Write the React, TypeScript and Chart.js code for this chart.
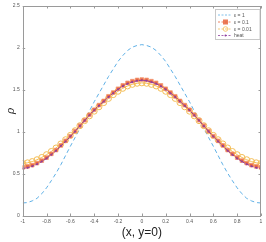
import React, { useEffect, useRef } from "react";
import { Chart, registerables } from "chart.js";

Chart.register(...registerables);

const xs = [
  -1, -0.96, -0.92, -0.88, -0.84, -0.8, -0.76, -0.72, -0.68, -0.64, -0.6, -0.56, -0.52, -0.48, -0.44, -0.4, -0.36, -0.32, -0.28, -0.24, -0.2, -0.16, -0.12, -0.08, -0.04,
  0,
  0.04, 0.08, 0.12, 0.16, 0.2, 0.24, 0.28, 0.32, 0.36, 0.4, 0.44, 0.48, 0.52, 0.56, 0.6, 0.64, 0.68, 0.72, 0.76, 0.8, 0.84, 0.88, 0.92, 0.96, 1,
];

const eps1 = [
  0.155, 0.16, 0.18, 0.21, 0.265, 0.335, 0.42, 0.51, 0.61, 0.72, 0.83, 0.935, 1.04, 1.145, 1.25, 1.36, 1.46, 1.56, 1.66, 1.75, 1.84, 1.91, 1.97, 2.01, 2.03,
  2.04,
  2.03, 2.01, 1.97, 1.91, 1.84, 1.75, 1.66, 1.56, 1.46, 1.36, 1.25, 1.145, 1.04, 0.935, 0.83, 0.72, 0.61, 0.51, 0.42, 0.335, 0.265, 0.21, 0.18, 0.16, 0.155,
];

const eps01 = [
  0.578, 0.59, 0.605, 0.63, 0.66, 0.695, 0.74, 0.785, 0.84, 0.895, 0.95, 1.01, 1.075, 1.14, 1.205, 1.265, 1.32, 1.37, 1.425, 1.47, 1.515, 1.555, 1.585, 1.605, 1.62,
  1.625,
  1.62, 1.605, 1.585, 1.555, 1.515, 1.47, 1.425, 1.37, 1.32, 1.265, 1.205, 1.14, 1.075, 1.01, 0.95, 0.895, 0.84, 0.785, 0.74, 0.695, 0.66, 0.63, 0.605, 0.59, 0.578,
];

const eps001 = [
  0.625, 0.633, 0.648, 0.67, 0.697, 0.73, 0.768, 0.81, 0.858, 0.908, 0.96, 1.015, 1.075, 1.135, 1.192, 1.248, 1.3, 1.35, 1.4, 1.445, 1.485, 1.52, 1.548, 1.567, 1.58,
  1.585,
  1.58, 1.567, 1.548, 1.52, 1.485, 1.445, 1.4, 1.35, 1.3, 1.248, 1.192, 1.135, 1.075, 1.015, 0.96, 0.908, 0.858, 0.81, 0.768, 0.73, 0.697, 0.67, 0.648, 0.633, 0.625,
];

const heat = [
  0.565, 0.575, 0.592, 0.617, 0.648, 0.685, 0.73, 0.777, 0.832, 0.888, 0.945, 1.007, 1.072, 1.136, 1.198, 1.258, 1.312, 1.362, 1.416, 1.462, 1.506, 1.545, 1.575, 1.595, 1.61,
  1.615,
  1.61, 1.595, 1.575, 1.545, 1.506, 1.462, 1.416, 1.362, 1.312, 1.258, 1.198, 1.136, 1.072, 1.007, 0.945, 0.888, 0.832, 0.777, 0.73, 0.685, 0.648, 0.617, 0.592, 0.575, 0.565,
];

const legendLabels = ["\u03b5 = 1", "\u03b5 = 0.1", "\u03b5 = 0.01", "heat"];
const xTitle = "(x, y=0)";
const yTitle = "\u03c1";

const BLUE = "#5fb0e6";
const RED = "#e8643c";
const YELLOW = "#f3bd55";
const PURPLE = "#8e3e9e";

const pts = (ys: number[]) => xs.map((x, i) => ({ x, y: ys[i] }));

const framePlugin = {
  id: "frame",
  afterDraw(chart: any) {
    const { ctx, chartArea: a, scales } = chart;
    ctx.save();
    ctx.strokeStyle = "#9a9a9a";
    ctx.lineWidth = 1;
    ctx.strokeRect(Math.round(a.left) + 0.5, Math.round(a.top) + 0.5, Math.round(a.right - a.left) - 1, Math.round(a.bottom - a.top));
    const tl = 2.5;
    ctx.beginPath();
    scales.x.ticks.forEach((t: any) => {
      const px = Math.round(scales.x.getPixelForValue(t.value)) + 0.5;
      ctx.moveTo(px, a.bottom);
      ctx.lineTo(px, a.bottom - tl);
      ctx.moveTo(px, a.top);
      ctx.lineTo(px, a.top + tl);
    });
    scales.y.ticks.forEach((t: any) => {
      const py = Math.round(scales.y.getPixelForValue(t.value)) + 0.5;
      ctx.moveTo(a.left, py);
      ctx.lineTo(a.left + tl, py);
      ctx.moveTo(a.right, py);
      ctx.lineTo(a.right - tl, py);
    });
    ctx.stroke();

    // axis titles
    ctx.fillStyle = "#222";
    ctx.font = "12px 'Liberation Sans', Arial, sans-serif";
    ctx.textAlign = "center";
    ctx.textBaseline = "middle";
    ctx.fillText(xTitle, (a.left + a.right) / 2, 233);
    ctx.save();
    ctx.translate(11, (a.top + a.bottom) / 2);
    ctx.rotate(-Math.PI / 2);
    ctx.font = "italic 11px 'DejaVu Serif', serif";
    ctx.fillText(yTitle, 0, 0);
    ctx.restore();

    // legend
    const lx = 215.5, ly = 9.5, lw = 44.5, lh = 30;
    ctx.fillStyle = "#ffffff";
    ctx.fillRect(lx, ly, lw, lh);
    ctx.strokeStyle = "#c8c8c8";
    ctx.strokeRect(lx, ly, lw, lh);
    const rows = [15, 22, 29, 35.5];
    ctx.font = "5px 'Liberation Sans', Arial, sans-serif";
    ctx.textAlign = "left";
    legendLabels.forEach((lab, i) => {
      const y = rows[i];
      ctx.save();
      ctx.lineWidth = 0.8;
      ctx.setLineDash([2, 1.5]);
      const col = [BLUE, RED, YELLOW, PURPLE][i];
      ctx.strokeStyle = col;
      ctx.beginPath();
      ctx.moveTo(218, y);
      ctx.lineTo(232, y);
      ctx.stroke();
      ctx.setLineDash([]);
      if (i === 1) {
        ctx.fillStyle = "rgba(232,100,60,0.85)";
        ctx.fillRect(223, y - 2.5, 5, 5);
      } else if (i === 2) {
        ctx.strokeStyle = YELLOW;
        ctx.beginPath();
        ctx.arc(225.5, y, 2.3, 0, Math.PI * 2);
        ctx.stroke();
      } else if (i === 3) {
        ctx.fillStyle = PURPLE;
        ctx.beginPath();
        ctx.arc(225.5, y, 1, 0, Math.PI * 2);
        ctx.fill();
      }
      ctx.restore();
      ctx.fillStyle = "#555";
      ctx.fillText(lab, 234, y + 0.5);
    });
    ctx.restore();
  },
};

export default function App() {
  const ref = useRef<HTMLCanvasElement>(null);
  useEffect(() => {
    if (!ref.current) return;
    const chart = new Chart(ref.current, {
      type: "line",
      data: {
        datasets: [
          {
            label: legendLabels[3],
            data: pts(heat),
            borderColor: PURPLE,
            borderWidth: 1,
            borderDash: [3, 1.5],
            pointRadius: 1,
            pointBackgroundColor: PURPLE,
            pointBorderWidth: 0,
            order: 0,
          },
          {
            label: legendLabels[1],
            data: pts(eps01),
            borderColor: RED,
            borderWidth: 1,
            pointStyle: "rect",
            pointRadius: 2.6,
            pointBackgroundColor: "rgba(232,96,56,0.85)",
            pointBorderColor: "rgba(245,150,110,0.9)",
            pointBorderWidth: 0.8,
            order: 1,
          },
          {
            label: legendLabels[2],
            data: pts(eps001),
            borderColor: YELLOW,
            borderWidth: 1,
            pointStyle: "circle",
            pointRadius: 3,
            pointBackgroundColor: "rgba(255,255,255,0)",
            pointBorderColor: YELLOW,
            pointBorderWidth: 1,
            order: 2,
          },
          {
            label: legendLabels[0],
            data: pts(eps1),
            borderColor: BLUE,
            borderWidth: 1,
            borderDash: [4, 3],
            pointRadius: 0,
            order: 3,
          },
        ],
      },
      options: {
        animation: false,
        responsive: false,
        maintainAspectRatio: false,
        layout: { padding: { top: 4, right: 2.5, left: 0, bottom: 0 } },
        plugins: { legend: { display: false }, tooltip: { enabled: false } },
        scales: {
          x: {
            type: "linear",
            min: -1,
            max: 1,
            grid: { display: false, drawTicks: false },
            border: { display: false },
            ticks: {
              stepSize: 0.2,
              font: { size: 5, family: "'Liberation Sans', Arial, sans-serif" },
              color: "#555",
              padding: 3,
              maxRotation: 0,
              autoSkip: false,
              callback: (v: any) => String(Math.round(Number(v) * 10) / 10),
            },
            afterFit: (s: any) => {
              s.height = 26;
            },
          },
          y: {
            type: "linear",
            min: 0,
            max: 2.5,
            grid: { display: false, drawTicks: false },
            border: { display: false },
            ticks: {
              stepSize: 0.5,
              font: { size: 5, family: "'Liberation Sans', Arial, sans-serif" },
              color: "#555",
              padding: 3,
              callback: (v: any) => String(Math.round(Number(v) * 10) / 10),
            },
            afterFit: (s: any) => {
              s.width = 22.7;
            },
          },
        },
      },
      plugins: [framePlugin],
    });
    return () => chart.destroy();
  }, []);
  return (
    <div style={{ position: "absolute", left: 0, top: 0, width: 266, height: 242, background: "#fff" }}>
      <canvas ref={ref} width={266} height={242} style={{ width: 266, height: 242 }} />
    </div>
  );
}
